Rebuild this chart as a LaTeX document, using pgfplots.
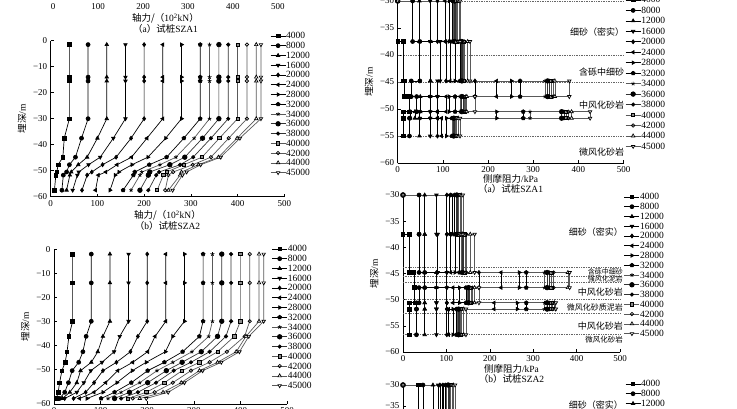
\documentclass[border=0pt]{standalone}
\usepackage{pgfplots}
\pgfplotsset{compat=1.18}
\usepackage{pgfplotstable}
\usetikzlibrary{plotmarks}
\usepackage{fontspec}
\setmainfont{Liberation Serif}
\newfontfamily\cjk{Noto Sans CJK SC}

% 15 load steps, same marks in every panel
\pgfplotscreateplotcyclelist{loads}{%
black,mark=square*,mark options={scale=0.9}\\%
black,mark=*\\%
black,mark=triangle*\\%
black,mark=triangle*,mark options={rotate=180}\\%
black,mark=diamond*\\%
black,mark=triangle*,mark options={rotate=90}\\%
black,mark=triangle*,mark options={rotate=-90}\\%
black,mark=pentagon*\\%
black!65,mark=star,mark options={black}\\%
black!80,mark=*,mark options={black,scale=1.15}\\%
black!80,mark=*,mark options={black,scale=0.85}\\%
black!65,mark=square*,mark options={black,fill=black!45,scale=0.8}\\%
black!65,mark=o,mark options={black,fill=white,scale=0.85}\\%
black!65,mark=triangle*,mark options={black,fill=white}\\%
black!65,mark=triangle*,mark options={black,fill=white,rotate=180}\\%
}

\tikzset{
  soil/.style={anchor=east, inner sep=0pt, font=\cjk\fontsize{9bp}{9bp}\selectfont},
  smallsoil/.style={anchor=east, inner sep=0pt, font=\cjk\fontsize{7bp}{7bp}\selectfont},
}

\pgfplotsset{
  panel/.style={
    scale only axis, axis lines=left, axis line style={-, line width=0.6pt},
    clip=false, tick align=inside, major tick length=3bp,
    tick style={black, line width=0.6pt},
    ticklabel style={font=\fontsize{9bp}{9bp}\selectfont},
    xlabel style={align=center, font=\fontsize{9.5bp}{11bp}\selectfont, inner sep=1pt},
    ylabel style={font=\fontsize{9.5bp}{11bp}\selectfont},
    /pgf/number format/assume math mode=true,
    cycle list name=loads,
    every axis plot/.append style={line width=0.7pt, mark size=2pt},
    legend style={draw=none, fill=none, anchor=north west, inner sep=0pt,
      font=\fontsize{9.5bp}{9.5bp}\selectfont, row sep=3.2pt,
      nodes={inner sep=0.3pt, text height=6pt, text depth=0pt}},
    legend image code/.code={\draw[mark repeat=2,mark phase=2] plot coordinates {(0bp,0bp) (7.5bp,0bp) (15bp,0bp)};},
    legend cell align=left,
    xmin=0, xmax=500, xtick={0,100,...,500},
  },
  axial/.style={panel, ymin=-60, ymax=0, ytick={-60,-50,...,0},
    yticklabels={−60,−50,−40,−30,−20,−10,0},
    ylabel={{\cjk 埋深}/m}},
  friction/.style={panel, ymin=-60, ymax=-30, ytick={-60,-55,...,-30},
    yticklabels={−60,−55,−50,−45,−40,−35,−30},
    ylabel={{\cjk 埋深}/m}},
}

\newcommand{\loadlegend}{\legend{4000,8000,12000,16000,20000,24000,28000,32000,34000,36000,38000,40000,42000,44000,45000}}

% axial force, pile SZA2 (10^2 kN)
\pgfplotstableread{
d     L1 L2 L3  L4  L5  L6  L7  L8  L9  L10 L11 L12 L13 L14 L15
-1.5  40 80 120 160 200 240 280 320 340 360 380 400 420 440 450
-14   40 80 120 160 200 240 280 320 340 360 380 400 420 440 450
-15.5 40 80 120 160 200 240 280 320 340 360 380 400 420 440 450
-30   40 80 120 160 200 240 280 320 340 360 380 400 420 440 450
-37.5 29 66 100 134 172 206 246 285 307 325 343 361 381 399 405
-44.8 26 53 78  106 140 173 208 248 268 287 305 324 343 359 364
-47.7 16 40 59  81  111 142 174 211 234 255 277 285 304 316 321
-50.5 13 34 44  60  88  118 146 180 195 212 232 248 262 280 291
-51.7 11 27 41  57  78  102 138 177 191 209 226 241 252 277 282
-57.5 8  24 34  47  67  96  127 155 172 191 209 228 245 252 261
}\axialB

% axial force, third pile (lower left)
\pgfplotstableread{
d     L1 L2 L3  L4  L5  L6  L7  L8  L9  L10 L11 L12 L13 L14 L15
-2    40 80 120 160 200 240 280 320 340 360 380 400 420 440 450
-14   40 80 120 160 200 240 280 320 340 360 380 400 420 440 450
-30   40 80 120 160 200 240 280 320 340 360 380 400 420 440 450
-36.3 32 69 105 141 180 217 255 312 332 351 369 387 409 412 418
-42.7 28 62 94  129 164 201 239 276 296 316 334 351 371 391 398
-47.1 24 53 80  103 134 169 198 237 255 275 294 312 334 351 359
-50.6 17 39 57  79  105 137 168 201 221 241 257 275 294 312 319
-55.6 12 31 49  64  86  111 135 166 184 201 219 237 255 273 280
-59.6 9  23 34  49  68  86  105 130 144 162 180 198 216 234 245
-62.2 5  12 18  23  42  55  71  101 116 130 144 159 169 184 198
}\axialC

% side friction SZA1 (kPa), step profile
\pgfplotstableread{
d     L1   L2 L3 L4 L5  L6  L7  L8  L9  L10 L11 L12 L13 L14 L15
-30   0    0  0  0  0   0   0   0   0   0   0   0   0   0   0
-30   0    33 48 72 88  105 114 122 124 126 128 130 133 136 138
-37.5 0    33 48 72 88  105 114 122 124 126 128 130 133 136 138
-37.5 12.5 49 73 94 107 116 127 138 140 142 144 146 148 155 160
-44.8 12.5 49 73 94 107 116 127 138 140 142 144 146 148 155 160
-44.8 15   30 72 88 171 219 252 271 326 332 336 340 344 348 380
-47.7 15   30 72 88 171 219 252 271 326 332 336 340 344 348 380
-47.7 26   42 50 72 88  107 114 127 138 142 145 148 150 153 171
-50.5 26   42 50 72 88  107 114 127 138 142 145 148 150 153 171
-50.5 12.5 27 38 49 72  88  219 278 293 363 368 373 378 385 426
-51.7 12.5 27 38 49 72  88  219 278 293 363 368 373 378 385 426
-51.7 12.5 26 48 72 88  97  108 120 122 124 126 128 130 134 138
-55   12.5 26 48 72 88  97  108 120 122 124 126 128 130 134 138
}\fricA

% side friction SZA2 (kPa)
\pgfplotstableread{
d     L1 L2 L3 L4  L5  L6  L7  L8  L9  L10 L11 L12 L13 L14 L15
-30   0  0  0  0   0   0   0   0   0   0   0   0   0   0   0
-30   0  37 50 77  101 107 113 119 122 124 126 128 131 134 138
-37.5 0  37 50 77  101 107 113 119 122 124 126 128 131 134 138
-37.5 15 37 50 80  101 110 120 130 134 137 140 143 146 155 165
-44.8 15 37 50 80  101 110 120 130 134 137 140 143 146 155 165
-44.8 25 50 77 101 175 226 268 284 326 332 337 342 347 380 384
-47.7 25 50 77 101 175 226 268 284 326 332 337 342 347 380 384
-47.7 27 37 50 77  101 115 130 145 148 151 154 157 160 165 175
-50.6 27 37 50 77  101 115 130 145 148 151 154 157 160 165 175
-50.6 14 31 50 77  101 210 263 284 326 332 337 342 345 349 352
-51.8 14 31 50 77  101 210 263 284 326 332 337 342 345 349 352
-51.8 14 31 50 77  101 105 115 123 126 128 130 133 135 140 145
-56.7 14 31 50 77  101 105 115 123 126 128 130 133 135 140 145
}\fricB

% side friction, third pile (only the top is in view)
\pgfplotstableread{
d     L1 L2 L3 L4  L5  L6  L7  L8  L9  L10 L11 L12 L13 L14 L15
-30   0  0  0  0   0   0   0   0   0   0   0   0   0   0   0
-30   35 46 69 81  85  90  94  98  101 104 107 110 113 116 120
-37.5 35 46 69 81  85  90  94  98  101 104 107 110 113 116 120
-37.5 20 50 80 100 110 120 125 130 133 136 140 143 146 150 155
-44.8 20 50 80 100 110 120 125 130 133 136 140 143 146 150 155
}\fricC

\begin{document}
\begin{tikzpicture}
\useasboundingbox (0,0) rectangle (737bp,-409bp);
\clip (0,0) rectangle (737bp,-409bp);

% (a) SZA1 axial force, only its bottom edge is on the page
\begin{axis}[panel, at={(53bp,0.3bp)}, anchor=south west, width=225bp, height=156bp,
  ymin=-60, ymax=0, ytick=\empty,
  xlabel={{\cjk 轴力/（}10\textsuperscript{2}kN{\cjk ）}\\{\cjk （}a{\cjk ）试桩}SZA1}]
\end{axis}

% (b) SZA2 axial force
\begin{axis}[axial, at={(50.7bp,-196.7bp)}, anchor=south west, width=233.6bp, height=156bp,
  xlabel={{\cjk 轴力/（}10\textsuperscript{2}kN{\cjk ）}\\{\cjk （}b{\cjk ）试桩}SZA2},
  legend style={at={(0.939,1.053)}}]
\pgfplotsinvokeforeach{1,...,15}{\addplot table[x=L#1,y=d]{\axialB};}
\loadlegend
\end{axis}

% third pile axial force
\begin{axis}[panel, at={(54bp,-404bp)}, anchor=south west, width=233bp, height=154.7bp,
  ymin=-64.5, ymax=0, ytick={-64.5,-50,-40,-30,-20,-10,0},
  yticklabels={−60,−50,−40,−30,−20,−10,0}, ylabel={{\cjk 埋深}/m},
  legend style={at={(0.934,1.025)}}]
\pgfplotsinvokeforeach{1,...,15}{\addplot table[x=L#1,y=d]{\axialC};}
\loadlegend
\end{axis}

% (a) SZA1 side friction
\begin{axis}[friction, at={(397.7bp,-163bp)}, anchor=south west, width=225.8bp, height=162bp,
  xlabel={{\cjk 侧摩阻力}/kPa\\{\cjk （}a{\cjk ）试桩}SZA1},
  xlabel style={yshift=3bp, font=\fontsize{9.5bp}{10bp}\selectfont},
  legend style={at={(1.007,1.028)}, row sep=3.9pt}]
\addplot[forget plot, densely dotted, black!60, line width=0.4pt, mark=none] coordinates {(0,-30) (500,-30)};
\addplot[forget plot, densely dotted, black!60, line width=0.4pt, mark=none] coordinates {(0,-40) (500,-40)};
\addplot[forget plot, densely dotted, black!60, line width=0.4pt, mark=none] coordinates {(0,-45) (500,-45)};
\addplot[forget plot, densely dotted, black!60, line width=0.4pt, mark=none] coordinates {(0,-55) (500,-55)};
\pgfplotsinvokeforeach{1,...,15}{\addplot table[x=L#1,y=d]{\fricA};}
\loadlegend
\node[soil] at (axis cs:502,-35.7) {细砂（密实）};
\node[soil] at (axis cs:502,-43.1) {含砾中细砂};
\node[soil] at (axis cs:502,-49.3) {中风化砂岩};
\node[soil] at (axis cs:502,-58) {微风化砂岩};
\end{axis}

% (b) SZA2 side friction
\begin{axis}[friction, at={(403bp,-352bp)}, anchor=south west, width=217bp, height=157bp,
  xlabel={{\cjk 侧摩阻力}/kPa\\{\cjk （}b{\cjk ）试桩}SZA2},
  xlabel style={yshift=2bp, font=\fontsize{9.5bp}{10bp}\selectfont},
  legend style={at={(1.018,1.01)}}]
\addplot[forget plot, densely dotted, black!60, line width=0.4pt, mark=none] coordinates {(0,-43.8) (500,-43.8)};
\addplot[forget plot, densely dotted, black!60, line width=0.4pt, mark=none] coordinates {(0,-45.6) (500,-45.6)};
\addplot[forget plot, densely dotted, black!60, line width=0.4pt, mark=none] coordinates {(0,-46.7) (500,-46.7)};
\addplot[forget plot, densely dotted, black!60, line width=0.4pt, mark=none] coordinates {(0,-50) (500,-50)};
\addplot[forget plot, densely dotted, black!60, line width=0.4pt, mark=none] coordinates {(0,-52.6) (500,-52.6)};
\addplot[forget plot, densely dotted, black!60, line width=0.4pt, mark=none] coordinates {(0,-56.6) (500,-56.6)};
\pgfplotsinvokeforeach{1,...,15}{\addplot table[x=L#1,y=d]{\fricB};}
\loadlegend
\node[soil] at (axis cs:507,-37) {细砂（密实）};
\node[smallsoil] at (axis cs:507,-44.7) {含砾中细砂};
\node[smallsoil] at (axis cs:507,-46.1) {强风化泥岩};
\node[soil] at (axis cs:507,-48.5) {中风化砂岩};
\node[smallsoil, font=\cjk\fontsize{8bp}{8bp}\selectfont] at (axis cs:507,-51.4) {微风化砂质泥岩};
\node[soil] at (axis cs:507,-55) {中风化砂岩};
\node[smallsoil, font=\cjk\fontsize{7.5bp}{7.5bp}\selectfont] at (axis cs:507,-57.7) {微风化砂岩};
\end{axis}

% third pile side friction, cut by the page edge
\begin{axis}[friction, at={(403bp,-511bp)}, anchor=south west, width=217bp, height=126bp,
  legend style={at={(1.023,1.036)}}]
\pgfplotsinvokeforeach{1,...,15}{\addplot table[x=L#1,y=d]{\fricC};}
\loadlegend
\node[soil] at (axis cs:507,-34.8) {细砂（密实）};
\end{axis}
\end{tikzpicture}
\end{document}
